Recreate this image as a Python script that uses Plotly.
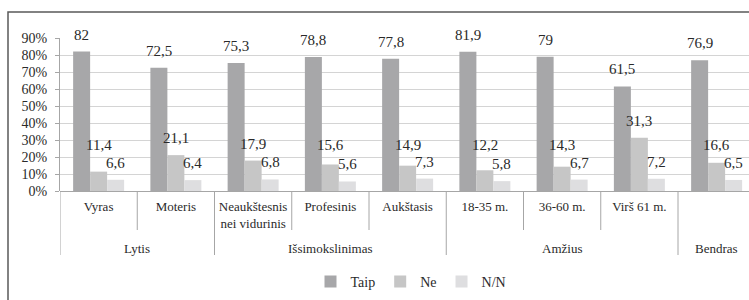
import plotly.graph_objects as go

# ---- data ----
categories = ["Vyras", "Moteris", "Neaukštesnis<br>nei vidurinis", "Profesinis",
              "Aukštasis", "18-35 m.", "36-60 m.", "Virš 61 m.", ""]
groups = ["Lytis", "Išsimokslinimas", "Amžius", "Bendras"]
group_sizes = [2, 3, 3, 1]
series_names = ["Taip", "Ne", "N/N"]
taip = [82, 72.5, 75.3, 78.8, 77.8, 81.9, 79, 61.5, 76.9]
ne = [11.4, 21.1, 17.9, 15.6, 14.9, 12.2, 14.3, 31.3, 16.6]
nn = [6.6, 6.4, 6.8, 5.6, 7.3, 5.8, 6.7, 7.2, 6.5]
y_ticks = [0, 10, 20, 30, 40, 50, 60, 70, 80, 90]
y_tick_labels = [f"{v}%" for v in y_ticks]

colors = ["#a7a7a9", "#c6c6c6", "#dedee0"]
FONT = "Liberation Serif, Tinos, Times New Roman, DejaVu Serif, serif"
TXT = "#2a2a2a"
BARGAP = 0.34

W, H = 749, 300
ML, MT, MB = 60, 38, 109
plot_h = H - MT - MB
plot_w = W - ML
cat_px = (678 - 60) / 8.0
x_max = len(categories) - 0.5 - (ML + cat_px * len(categories) - W) / cat_px

def py(px_from_axis):  # pixels below x axis -> paper y
    return -px_from_axis / plot_h

fig = go.Figure()
xs = list(range(len(categories)))
for name, vals, c in zip(series_names, [taip, ne, nn], colors):
    fig.add_trace(go.Bar(name=name, x=xs, y=vals, marker_color=c,
                         marker_line_width=0, hoverinfo="skip"))

# value labels
bw = (1 - BARGAP) / 3
ann = []
label_floor = [0, 17, 0]
for k, vals in enumerate([taip, ne, nn]):
    for i, v in enumerate(vals):
        ann.append(dict(x=i + (k - 1) * bw, y=max(v, label_floor[k]), xref="x", yref="y",
                        text=f"{v:g}".replace(".", ","), showarrow=False,
                        yanchor="bottom", yshift=7,
                        font=dict(family=FONT, size=15, color=TXT)))

# group labels and separators
shapes = []
start = 0
bounds = [-0.5]
for g, n in zip(groups, group_sizes):
    center = start + (n - 1) / 2
    ann.append(dict(x=center, y=py(57), xref="x", yref="paper", text=g,
                    showarrow=False, yanchor="middle",
                    font=dict(family=FONT, size=13, color=TXT)))
    start += n
    bounds.append(start - 0.5)
for i in range(len(categories)):
    b = i - 0.5
    is_group = b in bounds
    shapes.append(dict(type="line", xref="x", yref="paper", x0=b, x1=b,
                       y0=0, y1=py(64 if is_group else 39),
                       line=dict(color="#a6a6a6", width=1)))

# outer border
shapes.append(dict(type="rect", xref="paper", yref="paper",
                   x0=(8 - ML) / plot_w, x1=1.3,
                   y0=-1.2, y1=(H - MB - 12) / plot_h,
                   line=dict(color="#5a5a5a", width=1.5)))

fig.update_layout(
    width=W, height=H,
    margin=dict(l=ML, r=0, t=MT, b=MB, pad=0),
    paper_bgcolor="white", plot_bgcolor="white",
    barmode="group", bargap=BARGAP, bargroupgap=0,
    annotations=ann, shapes=shapes,
    showlegend=True,
    legend=dict(orientation="h", x=(411 - ML) / plot_w, xanchor="center",
                y=py(91), yanchor="middle",
                font=dict(family=FONT, size=14, color=TXT),
                itemwidth=30, traceorder="normal"),
    font=dict(family=FONT, color=TXT),
)
fig.update_xaxes(range=[-0.5, x_max], tickvals=xs, ticktext=categories,
                 showgrid=False, zeroline=False, showline=False, ticks="",
                 ticklabelstandoff=6,
                 tickfont=dict(family=FONT, size=13, color=TXT))
fig.update_yaxes(range=[0, 90], tickmode="array", tickvals=y_ticks,
                 ticktext=y_tick_labels, ticklabelstandoff=5,
                 showgrid=True, gridcolor="#d4d4d4", gridwidth=1,
                 zeroline=True, zerolinecolor="#a6a6a6", zerolinewidth=1,
                 showline=True, linecolor="#a6a6a6", linewidth=1,
                 ticks="outside", ticklen=4, tickcolor="#a6a6a6",
                 tickfont=dict(family=FONT, size=14, color=TXT))

fig.write_html("out.html", config={"displayModeBar": False},
               post_script="document.body.style.margin='0';document.body.style.padding='0';")
